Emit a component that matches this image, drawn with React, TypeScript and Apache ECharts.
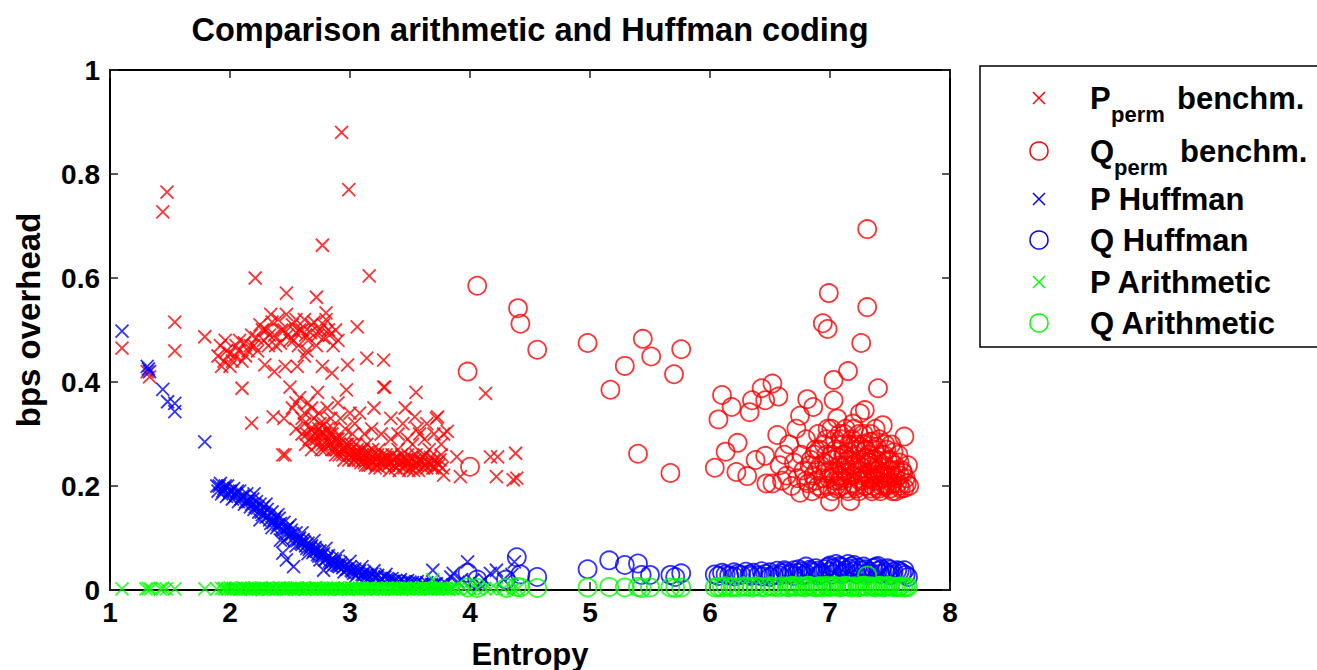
import React, { useEffect, useRef } from 'react';
import * as echarts from 'echarts';

const xTicks = [1, 2, 3, 4, 5, 6, 7, 8];
const yTicks = [0, 0.2, 0.4, 0.6, 0.8, 1];
const titleText = 'Comparison arithmetic and Huffman coding';
const xName = 'Entropy';
const yName = 'bps overhead';

const pPerm: number[][] = [
  [1.1, 0.465], [1.31, 0.42], [1.33, 0.41], [1.44, 0.727], [1.475, 0.765], [1.54, 0.515], [1.54, 0.46], [1.79, 0.487],
  [2.1, 0.388], [2.18, 0.321], [2.21, 0.6], [2.47, 0.571], [2.72, 0.563], [2.77, 0.663], [2.8, 0.533], [2.93, 0.88],
  [2.99, 0.77], [3.06, 0.506], [3.16, 0.604], [3.14, 0.446], [3.28, 0.442], [3.29, 0.39], [3.55, 0.38], [3.54, 0.333],
  [3.73, 0.333], [3.81, 0.305], [3.89, 0.256], [3.92, 0.218], [3.78, 0.221], [4.13, 0.378], [4.17, 0.256], [4.23, 0.256],
  [4.22, 0.218], [4.36, 0.212], [4.38, 0.263], [4.39, 0.215], [2.36, 0.333], [2.46, 0.26],
  [1.9, 0.45], [1.92, 0.47], [1.95, 0.44], [1.97, 0.46], [2.0, 0.455], [2.02, 0.44], [2.05, 0.47], [2.07, 0.46],
  [2.1, 0.44], [2.12, 0.475], [2.15, 0.46], [2.18, 0.49], [2.2, 0.47], [2.22, 0.485], [2.25, 0.51], [2.28, 0.48],
  [2.3, 0.5], [2.32, 0.47], [2.35, 0.515], [2.37, 0.49], [2.4, 0.52], [2.42, 0.475], [2.45, 0.5], [2.47, 0.53],
  [2.5, 0.48], [2.52, 0.51], [2.55, 0.495], [2.57, 0.47], [2.6, 0.5], [2.62, 0.52], [2.65, 0.48], [2.67, 0.495],
  [2.7, 0.515], [2.72, 0.47], [2.75, 0.5], [2.78, 0.485], [2.8, 0.52], [2.83, 0.49], [2.86, 0.47], [2.88, 0.5],
  [2.29, 0.433], [2.37, 0.42], [2.46, 0.43], [2.56, 0.43], [2.77, 0.43], [2.98, 0.433], [2.85, 0.417], [2.62, 0.45],
  [1.93, 0.43], [1.96, 0.48], [2.0, 0.43], [2.04, 0.45], [2.08, 0.48], [2.13, 0.45], [2.17, 0.47], [2.23, 0.46],
  [2.27, 0.5], [2.33, 0.49], [2.38, 0.47], [2.43, 0.5], [2.48, 0.49], [2.53, 0.48], [2.58, 0.5], [2.63, 0.49],
  [2.68, 0.51], [2.73, 0.49], [2.78, 0.51], [2.82, 0.5], [2.9, 0.48], [2.55, 0.52], [2.34, 0.53], [2.64, 0.46],
  [2.45, 0.33], [2.44, 0.26], [2.5, 0.39], [2.52, 0.35], [2.55, 0.31], [2.58, 0.37], [2.6, 0.3], [2.62, 0.34],
  [2.63, 0.28], [2.65, 0.36], [2.67, 0.31], [2.68, 0.27], [2.7, 0.33], [2.72, 0.29], [2.73, 0.38], [2.75, 0.3],
  [2.76, 0.27], [2.78, 0.32], [2.8, 0.28], [2.81, 0.35], [2.83, 0.3], [2.85, 0.27], [2.86, 0.31], [2.88, 0.26],
  [2.9, 0.29], [2.92, 0.33], [2.93, 0.27], [2.95, 0.25], [2.97, 0.385], [2.98, 0.28], [3.0, 0.26], [3.02, 0.3],
  [3.04, 0.25], [3.06, 0.27], [3.08, 0.34], [3.1, 0.26], [3.12, 0.245], [3.14, 0.28], [3.16, 0.25], [3.18, 0.31],
  [3.2, 0.26], [3.22, 0.24], [3.24, 0.27], [3.26, 0.25], [3.28, 0.39], [3.3, 0.26], [3.32, 0.24], [3.34, 0.29],
  [3.36, 0.25], [3.38, 0.235], [3.4, 0.27], [3.42, 0.25], [3.44, 0.32], [3.46, 0.24], [3.48, 0.26], [3.5, 0.235],
  [3.52, 0.28], [3.54, 0.25], [3.56, 0.24], [3.58, 0.3], [3.6, 0.245], [3.62, 0.26], [3.64, 0.235], [3.66, 0.27],
  [3.68, 0.24], [3.7, 0.25], [3.72, 0.33], [3.74, 0.24], [3.76, 0.26], [3.78, 0.3],
  [2.7, 0.29], [2.74, 0.31], [2.77, 0.28], [2.79, 0.3], [2.82, 0.29], [2.84, 0.28], [2.87, 0.29], [2.89, 0.27],
  [2.91, 0.28], [2.94, 0.26], [2.96, 0.27], [2.99, 0.26], [3.01, 0.27], [3.03, 0.26], [3.05, 0.26], [3.07, 0.25],
  [3.09, 0.27], [3.11, 0.25], [3.13, 0.26], [3.15, 0.24], [3.17, 0.26], [3.19, 0.245], [3.21, 0.25], [3.25, 0.245],
  [3.29, 0.25], [3.33, 0.245], [3.37, 0.25], [3.41, 0.24], [3.45, 0.25], [3.49, 0.245], [3.53, 0.24], [3.57, 0.25],
  [3.61, 0.235], [3.65, 0.245], [3.69, 0.235], [3.73, 0.245],
  [2.62, 0.32], [2.64, 0.3], [2.66, 0.29], [2.69, 0.31], [2.71, 0.3], [2.73, 0.28], [2.75, 0.32], [2.77, 0.3],
  [2.79, 0.27], [2.81, 0.31], [2.83, 0.28], [2.85, 0.3], [2.87, 0.27], [2.89, 0.29], [2.91, 0.26], [2.93, 0.29],
  [2.95, 0.27], [2.97, 0.28], [2.99, 0.25], [3.01, 0.28], [3.03, 0.25], [3.05, 0.28], [3.07, 0.26], [3.09, 0.245],
  [3.11, 0.27], [3.13, 0.24], [3.15, 0.265], [3.17, 0.24], [3.19, 0.27], [3.21, 0.235], [3.23, 0.26], [3.25, 0.235],
  [3.27, 0.26], [3.29, 0.24], [3.31, 0.255], [3.33, 0.23], [3.35, 0.26], [3.37, 0.24], [3.39, 0.255], [3.41, 0.23],
  [3.43, 0.26], [3.45, 0.235], [3.47, 0.25], [3.49, 0.23], [3.51, 0.255], [3.53, 0.23], [3.55, 0.26], [3.57, 0.23],
  [3.59, 0.25], [3.61, 0.255], [3.63, 0.24], [3.67, 0.255], [3.71, 0.235], [3.75, 0.25], [3.77, 0.235],
  [2.55, 0.36], [2.6, 0.33], [2.68, 0.35], [2.74, 0.34], [2.84, 0.33], [2.9, 0.36], [2.96, 0.31], [3.0, 0.34],
  [3.04, 0.32], [3.12, 0.3], [3.2, 0.35], [3.26, 0.3], [3.34, 0.33], [3.4, 0.3], [3.48, 0.29], [3.56, 0.31],
  [3.62, 0.29], [3.7, 0.3], [3.76, 0.28], [3.46, 0.35], [3.64, 0.32],
];

const qPerm: number[][] = [
  [3.98, 0.42], [4.0, 0.237], [4.06, 0.585], [4.4, 0.542], [4.42, 0.512], [4.56, 0.462], [4.98, 0.475], [5.17, 0.385],
  [5.29, 0.431], [5.4, 0.262], [5.44, 0.483], [5.51, 0.449], [5.67, 0.225], [5.7, 0.415], [5.76, 0.463],
  [6.04, 0.235], [6.07, 0.328], [6.1, 0.375], [6.13, 0.266], [6.18, 0.352], [6.22, 0.227], [6.23, 0.283], [6.31, 0.219],
  [6.33, 0.342], [6.35, 0.365], [6.38, 0.25], [6.43, 0.388], [6.46, 0.365], [6.46, 0.258], [6.47, 0.205], [6.52, 0.397],
  [6.52, 0.205], [6.56, 0.298], [6.57, 0.372], [6.58, 0.24], [6.6, 0.21], [6.62, 0.26],
  [6.64, 0.22], [6.66, 0.28], [6.68, 0.2], [6.7, 0.245], [6.72, 0.31], [6.73, 0.215], [6.75, 0.335], [6.75, 0.187],
  [6.76, 0.26], [6.78, 0.23], [6.8, 0.29], [6.81, 0.367], [6.82, 0.205], [6.84, 0.25], [6.86, 0.352], [6.86, 0.22],
  [6.88, 0.27], [6.9, 0.3], [6.9, 0.2],
  [6.92, 0.24], [6.94, 0.513], [6.94, 0.215], [6.95, 0.28], [6.97, 0.26], [6.98, 0.502], [6.98, 0.2], [6.99, 0.571],
  [7.0, 0.17], [7.0, 0.23], [7.01, 0.31], [7.02, 0.25], [7.03, 0.404], [7.03, 0.365], [7.04, 0.21], [7.05, 0.27],
  [7.06, 0.33], [7.07, 0.22], [7.08, 0.24], [7.09, 0.29], [7.1, 0.2], [7.11, 0.26], [7.12, 0.23], [7.13, 0.31],
  [7.14, 0.215], [7.15, 0.421], [7.15, 0.25], [7.16, 0.28], [7.17, 0.171], [7.18, 0.22], [7.19, 0.32], [7.2, 0.24],
  [7.21, 0.2], [7.22, 0.27], [7.23, 0.23], [7.24, 0.3], [7.25, 0.34], [7.25, 0.21], [7.26, 0.475], [7.26, 0.25],
  [7.27, 0.22], [7.28, 0.28], [7.29, 0.346], [7.3, 0.2], [7.31, 0.544], [7.31, 0.694], [7.31, 0.24], [7.32, 0.26],
  [7.33, 0.215], [7.34, 0.3], [7.35, 0.23], [7.36, 0.2], [7.37, 0.27], [7.38, 0.22], [7.39, 0.25], [7.4, 0.388],
  [7.4, 0.21], [7.41, 0.29], [7.42, 0.235], [7.43, 0.2], [7.44, 0.317], [7.45, 0.26], [7.46, 0.22], [7.47, 0.205],
  [7.48, 0.25], [7.5, 0.23], [7.51, 0.28], [7.52, 0.205], [7.54, 0.24], [7.55, 0.215], [7.57, 0.26], [7.58, 0.2],
  [7.6, 0.23], [7.62, 0.295], [7.62, 0.196], [7.63, 0.215], [7.65, 0.24], [7.66, 0.2],
  [7.05, 0.2], [7.1, 0.235], [7.15, 0.19], [7.2, 0.26], [7.22, 0.195], [7.28, 0.21], [7.33, 0.245], [7.35, 0.19],
  [7.38, 0.235], [7.42, 0.19], [7.45, 0.24], [7.48, 0.2], [7.52, 0.22], [7.55, 0.19], [7.58, 0.22], [7.08, 0.21],
  [7.12, 0.26], [7.18, 0.24], [7.24, 0.215], [7.3, 0.255], [7.36, 0.215], [7.44, 0.215], [7.5, 0.195], [6.96, 0.225],
  [7.02, 0.19], [6.88, 0.21],
  [6.8, 0.21], [6.83, 0.24], [6.85, 0.19], [6.87, 0.26], [6.89, 0.23], [6.91, 0.27], [6.93, 0.195], [6.95, 0.245],
  [6.97, 0.29], [6.99, 0.215], [7.01, 0.26], [7.03, 0.225], [7.04, 0.29], [7.06, 0.195], [7.07, 0.255], [7.09, 0.215],
  [7.11, 0.28], [7.13, 0.24], [7.14, 0.195], [7.16, 0.265], [7.17, 0.225], [7.19, 0.205], [7.21, 0.28], [7.22, 0.245],
  [7.24, 0.19], [7.26, 0.275], [7.27, 0.235], [7.29, 0.2], [7.3, 0.27], [7.32, 0.225], [7.33, 0.285], [7.34, 0.195],
  [7.36, 0.25], [7.37, 0.21], [7.39, 0.275], [7.4, 0.23], [7.41, 0.195], [7.43, 0.26], [7.44, 0.225], [7.46, 0.2],
  [7.47, 0.27], [7.49, 0.215], [7.5, 0.25], [7.52, 0.19], [7.53, 0.265], [7.55, 0.23], [7.56, 0.205], [7.58, 0.245],
  [7.59, 0.195], [7.61, 0.225], [7.64, 0.205], [7.12, 0.3], [7.2, 0.31], [7.28, 0.3], [7.35, 0.285], [7.18, 0.29],
  [7.08, 0.3], [6.98, 0.31], [7.38, 0.31], [7.46, 0.28],
];

const pHuff: number[][] = [
  [1.1, 0.498], [1.31, 0.43], [1.33, 0.42], [1.32, 0.425], [1.44, 0.386], [1.48, 0.362], [1.54, 0.359], [1.54, 0.343], [1.79, 0.285],
  [1.89, 0.2], [1.9, 0.19], [1.92, 0.205], [1.93, 0.185], [1.95, 0.195], [1.97, 0.18], [1.98, 0.2], [2.0, 0.19],
  [2.02, 0.175], [2.03, 0.195], [2.05, 0.185], [2.07, 0.17], [2.08, 0.19], [2.1, 0.18], [2.12, 0.165], [2.14, 0.185],
  [2.15, 0.17], [2.17, 0.16], [2.19, 0.175], [2.2, 0.155], [2.22, 0.17], [2.24, 0.15], [2.25, 0.165], [2.27, 0.145],
  [2.28, 0.16], [2.3, 0.14], [2.31, 0.155], [2.33, 0.135], [2.35, 0.15], [2.36, 0.13], [2.38, 0.14], [2.4, 0.125],
  [2.41, 0.138], [2.42, 0.096], [2.43, 0.118], [2.44, 0.071], [2.45, 0.13], [2.46, 0.11], [2.47, 0.058], [2.48, 0.12],
  [2.5, 0.105], [2.51, 0.115], [2.53, 0.045], [2.53, 0.1], [2.55, 0.11], [2.56, 0.095], [2.58, 0.1], [2.6, 0.088],
  [2.61, 0.097], [2.63, 0.085], [2.65, 0.09], [2.66, 0.078], [2.68, 0.085], [2.7, 0.075], [2.71, 0.082], [2.73, 0.068],
  [2.75, 0.075], [2.76, 0.065], [2.78, 0.038], [2.78, 0.07], [2.8, 0.06], [2.82, 0.066], [2.83, 0.055], [2.85, 0.06],
  [2.87, 0.05], [2.88, 0.056], [2.9, 0.047], [2.92, 0.052], [2.94, 0.043], [2.96, 0.047], [2.98, 0.04], [3.0, 0.044],
  [3.02, 0.036], [3.04, 0.04], [3.06, 0.033], [3.08, 0.037], [3.1, 0.03], [3.12, 0.034], [3.15, 0.028], [3.18, 0.03],
  [3.2, 0.025], [3.23, 0.028], [3.26, 0.022], [3.29, 0.025], [3.32, 0.02], [3.35, 0.022], [3.38, 0.018], [3.42, 0.02],
  [3.45, 0.016], [3.48, 0.018], [3.52, 0.014], [3.56, 0.016], [3.6, 0.012], [3.64, 0.014], [3.68, 0.011], [3.72, 0.012],
  [3.69, 0.038], [3.76, 0.01], [3.8, 0.012], [3.84, 0.025], [3.86, 0.032], [3.9, 0.015], [3.93, 0.02], [3.98, 0.054],
  [4.02, 0.018], [4.08, 0.012], [4.12, 0.02], [4.17, 0.032], [4.22, 0.038], [4.28, 0.02], [4.37, 0.054], [4.35, 0.03],
  [2.2, 0.185], [2.3, 0.165], [2.4, 0.145], [2.5, 0.125], [2.6, 0.11], [2.7, 0.095], [2.8, 0.08], [2.9, 0.065],
  [3.0, 0.055], [3.1, 0.045], [3.2, 0.037], [3.3, 0.03], [2.25, 0.135], [2.35, 0.12], [2.45, 0.095], [2.55, 0.085],
  [2.65, 0.07], [2.75, 0.058], [2.85, 0.045], [2.95, 0.035], [3.05, 0.027], [3.15, 0.022], [3.25, 0.018], [3.4, 0.013],
  [1.91, 0.2], [1.94, 0.19], [1.96, 0.2], [1.99, 0.185], [2.01, 0.19], [2.04, 0.18], [2.06, 0.19], [2.09, 0.175],
  [2.11, 0.18], [2.13, 0.17], [2.16, 0.175], [2.18, 0.165], [2.21, 0.16], [2.23, 0.158], [2.26, 0.15], [2.29, 0.148],
  [2.32, 0.142], [2.34, 0.128], [2.37, 0.135], [2.39, 0.12], [2.42, 0.128], [2.44, 0.115], [2.47, 0.118], [2.49, 0.105],
  [2.52, 0.108], [2.54, 0.095], [2.57, 0.098], [2.59, 0.09], [2.62, 0.092], [2.64, 0.08], [2.67, 0.082], [2.69, 0.072],
  [2.72, 0.075], [2.74, 0.065], [2.77, 0.067], [2.79, 0.058], [2.81, 0.062], [2.84, 0.052], [2.86, 0.055], [2.89, 0.048],
  [2.91, 0.045], [2.93, 0.048], [2.97, 0.04], [3.01, 0.038], [3.03, 0.032], [3.07, 0.033], [3.11, 0.028], [3.14, 0.03],
  [3.17, 0.025], [3.22, 0.024], [3.27, 0.02], [3.31, 0.022], [3.36, 0.017], [3.41, 0.016], [3.46, 0.014], [3.5, 0.015],
  [3.55, 0.012], [3.62, 0.011], [3.7, 0.01], [3.78, 0.009],
];

const qHuff: number[][] = [
  [3.98, 0.033], [4.06, 0.02], [4.3, 0.02], [4.39, 0.063], [4.42, 0.03], [4.56, 0.025], [4.98, 0.04], [5.16, 0.057],
  [5.29, 0.048], [5.4, 0.051], [5.43, 0.029], [5.5, 0.029], [5.67, 0.029], [5.71, 0.025], [5.76, 0.032],
  [6.04, 0.03], [6.07, 0.027], [6.1, 0.033], [6.13, 0.03], [6.16, 0.028], [6.2, 0.034], [6.23, 0.031], [6.26, 0.029],
  [6.3, 0.035], [6.33, 0.03], [6.36, 0.033], [6.4, 0.028], [6.43, 0.036], [6.46, 0.031], [6.5, 0.034], [6.53, 0.029],
  [6.56, 0.037], [6.6, 0.032], [6.63, 0.035], [6.66, 0.03], [6.7, 0.038], [6.73, 0.033], [6.76, 0.036], [6.8, 0.031],
  [6.83, 0.039], [6.86, 0.034], [6.9, 0.037], [6.93, 0.032], [6.96, 0.04], [7.0, 0.035], [7.03, 0.042], [7.06, 0.037],
  [7.1, 0.044], [7.13, 0.038], [7.16, 0.041], [7.2, 0.036], [7.23, 0.043], [7.26, 0.038], [7.3, 0.04], [7.33, 0.035],
  [7.36, 0.042], [7.4, 0.037], [7.43, 0.04], [7.46, 0.034], [7.5, 0.039], [7.53, 0.035], [7.56, 0.038], [7.6, 0.032],
  [7.63, 0.029], [7.65, 0.025],
  [6.5, 0.025], [6.7, 0.027], [6.9, 0.028], [7.1, 0.03], [7.3, 0.029], [7.5, 0.028], [6.8, 0.045], [7.0, 0.047],
  [7.2, 0.048], [7.4, 0.046], [7.05, 0.05], [7.15, 0.05],
  [6.58, 0.028], [6.62, 0.038], [6.68, 0.032], [6.74, 0.04], [6.78, 0.028], [6.84, 0.036], [6.88, 0.042], [6.92, 0.03],
  [6.98, 0.044], [7.02, 0.03], [7.08, 0.046], [7.12, 0.033], [7.18, 0.045], [7.22, 0.031], [7.28, 0.045], [7.32, 0.032],
  [7.38, 0.044], [7.42, 0.031], [7.48, 0.042], [7.52, 0.03], [7.58, 0.036], [7.62, 0.038], [6.2, 0.026], [6.34, 0.027],
  [6.44, 0.026],
];

const pArith: number[][] = [
  [1.1, 0.002], [1.3, 0.002], [1.32, 0.003], [1.34, 0.002], [1.42, 0.002], [1.44, 0.003], [1.47, 0.002], [1.54, 0.002],
  [1.79, 0.002], [1.89, 0.002], [1.93, 0.003], [1.96, 0.002], [2.0, 0.004], [2.03, 0.002], [2.06, 0.003], [2.09, 0.001],
  [2.12, 0.003], [2.15, 0.002], [2.18, 0.004], [2.21, 0.002], [2.24, 0.003], [2.27, 0.001], [2.3, 0.003], [2.33, 0.002],
  [2.36, 0.004], [2.39, 0.002], [2.42, 0.003], [2.45, 0.001], [2.48, 0.003], [2.51, 0.002], [2.54, 0.004], [2.57, 0.002],
  [2.6, 0.003], [2.63, 0.001], [2.66, 0.003], [2.69, 0.002], [2.72, 0.004], [2.75, 0.002], [2.78, 0.003], [2.81, 0.001],
  [2.84, 0.003], [2.87, 0.002], [2.9, 0.004], [2.93, 0.002], [2.96, 0.003], [2.99, 0.001], [3.02, 0.003], [3.05, 0.002],
  [3.08, 0.004], [3.11, 0.002], [3.14, 0.003], [3.17, 0.001], [3.2, 0.003], [3.23, 0.002], [3.26, 0.004], [3.29, 0.002],
  [3.32, 0.003], [3.35, 0.001], [3.38, 0.003], [3.41, 0.002], [3.44, 0.004], [3.47, 0.002], [3.5, 0.003], [3.53, 0.001],
  [3.56, 0.003], [3.59, 0.002], [3.62, 0.004], [3.65, 0.002], [3.68, 0.003], [3.69, 0.02], [3.71, 0.002], [3.74, 0.003],
  [3.77, 0.002], [3.8, 0.004], [3.83, 0.002], [3.86, 0.003], [3.9, 0.002], [3.95, 0.003], [4.0, 0.002], [4.06, 0.002],
  [4.12, 0.003], [4.17, 0.002], [4.22, 0.002], [4.28, 0.003], [4.36, 0.002], [4.4, 0.002],
  [1.95, 0.003], [1.98, 0.002], [2.01, 0.001], [2.05, 0.003], [2.08, 0.002], [2.11, 0.004], [2.14, 0.002], [2.17, 0.001],
  [2.2, 0.003], [2.23, 0.002], [2.26, 0.004], [2.29, 0.002], [2.32, 0.001], [2.35, 0.003], [2.38, 0.002], [2.41, 0.004],
  [2.44, 0.002], [2.47, 0.001], [2.5, 0.003], [2.53, 0.002], [2.56, 0.004], [2.59, 0.002], [2.62, 0.001], [2.65, 0.003],
  [2.68, 0.002], [2.71, 0.004], [2.74, 0.002], [2.77, 0.001], [2.8, 0.003], [2.83, 0.002], [2.86, 0.004], [2.89, 0.002],
  [2.92, 0.001], [2.95, 0.003], [2.98, 0.002], [3.01, 0.004], [3.04, 0.002], [3.07, 0.001], [3.1, 0.003], [3.13, 0.002],
  [3.16, 0.004], [3.19, 0.002], [3.22, 0.001], [3.25, 0.003], [3.28, 0.002], [3.31, 0.004], [3.34, 0.002], [3.37, 0.001],
  [3.4, 0.003], [3.43, 0.002], [3.46, 0.004], [3.49, 0.002], [3.52, 0.001], [3.55, 0.003], [3.58, 0.002], [3.61, 0.004],
  [3.64, 0.002], [3.67, 0.001], [3.7, 0.003], [3.73, 0.002], [3.76, 0.004], [3.79, 0.002], [3.82, 0.001], [3.85, 0.003],
];

const qArith: number[][] = [
  [3.98, 0.005], [4.06, 0.004], [4.3, 0.004], [4.39, 0.006], [4.42, 0.005], [4.56, 0.004], [4.98, 0.005], [5.16, 0.006],
  [5.29, 0.005], [5.4, 0.006], [5.43, 0.004], [5.5, 0.005], [5.67, 0.005], [5.71, 0.004], [5.76, 0.005],
  [6.04, 0.005], [6.07, 0.006], [6.1, 0.005], [6.13, 0.007], [6.17, 0.005], [6.2, 0.006], [6.24, 0.005], [6.28, 0.007],
  [6.31, 0.006], [6.35, 0.005], [6.38, 0.007], [6.42, 0.006], [6.46, 0.005], [6.5, 0.007], [6.53, 0.006], [6.57, 0.005],
  [6.6, 0.007], [6.64, 0.006], [6.68, 0.008], [6.72, 0.006], [6.75, 0.007], [6.79, 0.005], [6.83, 0.008], [6.86, 0.006],
  [6.9, 0.007], [6.94, 0.005], [6.97, 0.008], [7.01, 0.006], [7.05, 0.007], [7.08, 0.005], [7.12, 0.008], [7.16, 0.006],
  [7.2, 0.007], [7.23, 0.005], [7.27, 0.008], [7.31, 0.006], [7.34, 0.007], [7.38, 0.005], [7.42, 0.008], [7.46, 0.006],
  [7.5, 0.007], [7.53, 0.005], [7.57, 0.006], [7.61, 0.005], [7.65, 0.006], [7.31, 0.028],
  [6.66, 0.005], [6.7, 0.007], [6.77, 0.006], [6.81, 0.008], [6.88, 0.005], [6.92, 0.007], [6.99, 0.006], [7.03, 0.008],
  [7.1, 0.006], [7.14, 0.007], [7.18, 0.005], [7.25, 0.006], [7.29, 0.008], [7.36, 0.006], [7.4, 0.007], [7.44, 0.005],
  [7.48, 0.008], [7.55, 0.006], [7.59, 0.007], [7.63, 0.005],
];

const RED = '#ff0000';
const BLUE = '#0000ff';
const GREEN = '#00ff00';
const FONT = '"Liberation Sans", Arial, Helvetica, sans-serif';
const CROSS = 'path://M0,0L10,10M10,0L0,10';

function crossSeries(name: string, data: number[][], color: string) {
  return {
    name, type: 'scatter', data, symbol: CROSS, symbolSize: 13, clip: false,
    itemStyle: { color: 'rgba(0,0,0,0)', borderColor: color, borderWidth: 1.8 },
  };
}
function circleSeries(name: string, data: number[][], color: string) {
  return {
    name, type: 'scatter', data, symbol: 'circle', symbolSize: 18, clip: false,
    itemStyle: { color: 'rgba(0,0,0,0)', borderColor: color, borderWidth: 1.8 },
  };
}

export default function App() {
  const ref = useRef<HTMLDivElement>(null);
  useEffect(() => {
    if (!ref.current) return;
    const chart = echarts.init(ref.current, undefined, { renderer: 'svg' });
    const axisLine = { show: true, onZero: false, lineStyle: { color: '#000', width: 2 } };
    const tick = { show: true, inside: true, length: 8, lineStyle: { color: '#222', width: 1.5 } };
    const label = { fontSize: 28, fontWeight: 'bold', color: '#000', fontFamily: FONT };
    const legendRows = [
      { kind: 'x', color: RED, y: 98, main: 'P', sub: 'perm', rest: 'benchm.', subX: 1111, restX: 1177 },
      { kind: 'o', color: RED, y: 151, main: 'Q', sub: 'perm', rest: 'benchm.', subX: 1114, restX: 1180 },
      { kind: 'x', color: BLUE, y: 199, main: 'P Huffman' },
      { kind: 'o', color: BLUE, y: 240, main: 'Q Huffman' },
      { kind: 'x', color: GREEN, y: 282, main: 'P Arithmetic' },
      { kind: 'o', color: GREEN, y: 323, main: 'Q Arithmetic' },
    ];
    const legendEls: any[] = [
      { type: 'rect', shape: { x: 980, y: 66, width: 345, height: 281 }, style: { fill: '#fff', stroke: '#000', lineWidth: 1.5 }, z: 10 },
    ];
    legendRows.forEach((r: any) => {
      if (r.kind === 'x') {
        legendEls.push({ type: 'line', shape: { x1: 1033, y1: r.y - 6, x2: 1045, y2: r.y + 6 }, style: { stroke: r.color, lineWidth: 1.5 }, z: 11 });
        legendEls.push({ type: 'line', shape: { x1: 1033, y1: r.y + 6, x2: 1045, y2: r.y - 6 }, style: { stroke: r.color, lineWidth: 1.5 }, z: 11 });
      } else {
        legendEls.push({ type: 'circle', shape: { cx: 1039, cy: r.y, r: 9 }, style: { fill: 'none', stroke: r.color, lineWidth: 1.5 }, z: 11 });
      }
      legendEls.push({ type: 'text', x: 1090, y: r.y, style: { text: r.main, fill: '#000', font: `bold 31px ${FONT}`, verticalAlign: 'middle' }, z: 11 });
      if (r.sub) {
        legendEls.push({ type: 'text', x: r.subX, y: r.y + 16, style: { text: r.sub, fill: '#000', font: `bold 22px ${FONT}`, verticalAlign: 'middle' }, z: 11 });
        legendEls.push({ type: 'text', x: r.restX, y: r.y, style: { text: r.rest, fill: '#000', font: `bold 31px ${FONT}`, verticalAlign: 'middle' }, z: 11 });
      }
    });
    chart.setOption({
      animation: false,
      backgroundColor: '#fff',
      grid: { left: 110, right: 367, top: 70, bottom: 80, containLabel: false },
      xAxis: [
        { type: 'value', min: xTicks[0], max: xTicks[xTicks.length - 1], interval: 1, position: 'bottom', axisLine, axisTick: tick,
          axisLabel: { ...label, margin: 8 }, splitLine: { show: false } },
        { type: 'value', min: xTicks[0], max: xTicks[xTicks.length - 1], interval: 1, position: 'top', axisLine, axisTick: tick,
          axisLabel: { show: false }, splitLine: { show: false } },
      ],
      yAxis: [
        { type: 'value', min: yTicks[0], max: yTicks[yTicks.length - 1], interval: 0.2, position: 'left', axisLine, axisTick: tick,
          axisLabel: { ...label, margin: 10, formatter: (v: number) => String(Number(v.toFixed(1))) }, splitLine: { show: false } },
        { type: 'value', min: yTicks[0], max: yTicks[yTicks.length - 1], interval: 0.2, position: 'right', axisLine, axisTick: tick,
          axisLabel: { show: false }, splitLine: { show: false } },
      ],
      series: [
        crossSeries('P perm benchm.', pPerm, RED),
        circleSeries('Q perm benchm.', qPerm, RED),
        crossSeries('P Huffman', pHuff, BLUE),
        circleSeries('Q Huffman', qHuff, BLUE),
        crossSeries('P Arithmetic', pArith, GREEN),
        circleSeries('Q Arithmetic', qArith, GREEN),
      ],
      graphic: [
        { type: 'text', x: 530, y: 30, style: { text: titleText, fill: '#000', font: `bold 32.5px ${FONT}`, align: 'center', verticalAlign: 'middle' } },
        { type: 'text', x: 530, y: 654, style: { text: xName, fill: '#000', font: `bold 31px ${FONT}`, align: 'center', verticalAlign: 'middle' } },
        { type: 'text', x: 28, y: 320, rotation: Math.PI / 2, style: { text: yName, fill: '#000', font: `bold 33px ${FONT}`, align: 'center', verticalAlign: 'middle' } },
        ...legendEls,
      ],
    });
    return () => chart.dispose();
  }, []);
  return <div ref={ref} style={{ position: 'fixed', left: 0, top: 0, width: 1317, height: 670 }} />;
}
